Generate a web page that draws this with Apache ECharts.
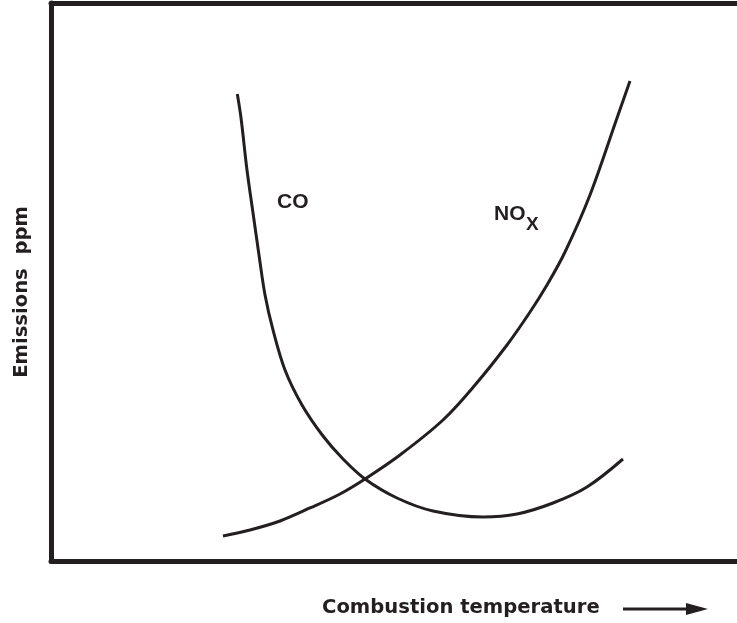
<!DOCTYPE html>
<html>
<head>
<meta charset="utf-8">
<script src="https://cdn.jsdelivr.net/npm/echarts@6/dist/echarts.min.js"></script>
<style>
  html, body { margin: 0; padding: 0; background: #fff; }
  #chart { width: 737px; height: 623px; }
</style>
</head>
<body>
<div id="chart"></div>
<script>
// Schematic emissions vs. combustion temperature (arbitrary units, 0-100)
const coTemp = [27.16, 27.70, 28.57, 29.45, 30.32, 31.20, 32.36, 34.11, 36.59, 39.65, 42.57, 45.77, 50.44, 55.69, 62.97, 67.93, 73.18, 78.13, 83.38];
const coPpm  = [83.69, 79.39, 70.07, 62.37, 54.84, 47.67, 41.40, 34.23, 27.96, 22.40, 18.28, 14.70, 11.29, 8.96, 7.89, 8.42, 10.39, 13.26, 18.28];

const noxTemp = [25.07, 29.01, 33.38, 37.76, 42.13, 45.77, 50.87, 57.14, 61.81, 66.47, 69.83, 72.30, 74.93, 78.57, 82.51, 84.40];
const noxPpm  = [4.48, 5.56, 7.17, 9.50, 12.01, 14.70, 19.00, 25.27, 31.54, 38.71, 44.62, 49.46, 55.38, 65.59, 79.39, 86.02];

const ink = '#231f20';
const labelFont = '"Liberation Sans", Arial, sans-serif';
const axisFont = '"DejaVu Sans", sans-serif';

const pairs = (xs, ys) => xs.map((x, i) => [x, ys[i]]);

const chart = echarts.init(document.getElementById('chart'), null, { renderer: 'canvas' });

chart.setOption({
  animation: false,
  backgroundColor: '#fff',
  grid: { left: 51, right: 0, top: 3, bottom: 62, containLabel: false },
  xAxis: [
    {
      type: 'value', min: 0, max: 100, position: 'bottom',
      axisLine: { show: true, lineStyle: { color: ink, width: 5 } },
      axisTick: { show: false }, axisLabel: { show: false }, splitLine: { show: false }
    },
    {
      type: 'value', min: 0, max: 100, position: 'top',
      axisLine: { show: true, lineStyle: { color: ink, width: 5 } },
      axisTick: { show: false }, axisLabel: { show: false }, splitLine: { show: false }
    }
  ],
  yAxis: {
    type: 'value', min: 0, max: 100,
    axisLine: { show: true, lineStyle: { color: ink, width: 5 } },
    axisTick: { show: false }, axisLabel: { show: false }, splitLine: { show: false }
  },
  series: [
    {
      name: 'CO', type: 'line', xAxisIndex: 0,
      data: pairs(coTemp, coPpm),
      smooth: 0.35, showSymbol: false,
      lineStyle: { color: ink, width: 3 }
    },
    {
      name: 'NOx', type: 'line', xAxisIndex: 0,
      data: pairs(noxTemp, noxPpm),
      smooth: 0.35, showSymbol: false,
      lineStyle: { color: ink, width: 3 }
    }
  ],
  graphic: [
    {
      type: 'text', x: 277, y: 202,
      style: { text: 'CO', font: 'bold 21px ' + labelFont, fill: ink, verticalAlign: 'middle' }
    },
    {
      type: 'text', x: 494, y: 214,
      style: { text: 'NO', font: 'bold 21px ' + labelFont, fill: ink, verticalAlign: 'middle' }
    },
    {
      type: 'text', x: 526, y: 225,
      style: { text: 'X', font: 'bold 19px ' + labelFont, fill: ink, verticalAlign: 'middle' }
    },
    {
      type: 'text', x: 22, y: 292, rotation: Math.PI / 2,
      style: {
        text: 'Emissions  ppm', font: 'bold 19.6px ' + axisFont, fill: ink,
        align: 'center', verticalAlign: 'middle'
      }
    },
    {
      type: 'text', x: 322, y: 608,
      style: {
        text: 'Combustion temperature', font: 'bold 19.6px ' + axisFont, fill: ink,
        align: 'left', verticalAlign: 'middle'
      }
    },
    {
      type: 'line', shape: { x1: 623, y1: 609, x2: 696, y2: 609 },
      style: { stroke: ink, lineWidth: 3 }
    },
    {
      type: 'polygon', shape: { points: [[686, 603], [708, 609], [686, 615]] },
      style: { fill: ink }
    }
  ]
});
</script>
</body>
</html>
